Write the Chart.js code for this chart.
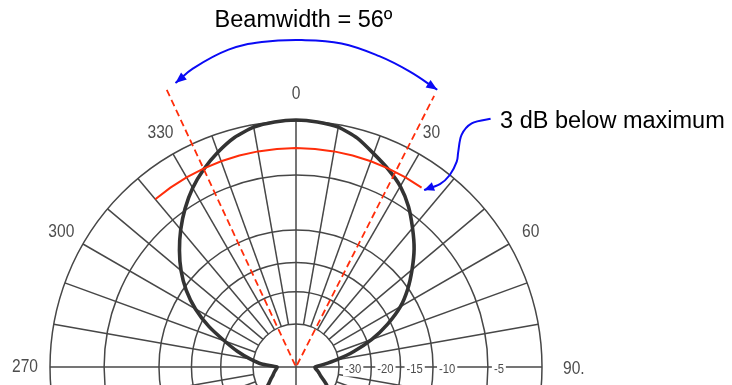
<!DOCTYPE html>
<html><head><meta charset="utf-8">
<script src="https://cdn.jsdelivr.net/npm/chart.js@4.4.1/dist/chart.umd.min.js"></script>
<style>
html,body{margin:0;padding:0;background:#fff;overflow:hidden;width:732px;height:385px;}
#wrap{position:absolute;left:0;top:0;width:732px;height:640px;}
</style></head><body>
<div id="wrap"><canvas id="c"></canvas></div>
<script>
// ---------------- data ----------------
const startDeg = 180; // category index 0 sits at the bottom of the polar plot
const angleLabels = Array.from({length: 360}, (_, i) => String((startDeg + i) % 360));

// rings of the polar paper (fraction of outer radius) and their dB labels
const ringValues = [0.175, 0.306, 0.425, 0.557, 0.780, 1.0];
const ringTickLabels = ['-30', '-20', '-15', '-10', '-5'];

// azimuth labels printed round the paper
const azimuthTickAngles = [0, 30, 60, 90, 270, 300, 330];
const azimuthTickLabels = ['0', '30', '60', '90.', '270', '300', '330'];

// measured radiation pattern, every 5 degrees (relative radius)
const patternAngles = [0,5,10,15,20,25,30,35,40,45,50,55,60,65,70,75,80,85,90,95,100,105,110,115,120,125,130,135,140,145,150,155,160,165,170,175,180,185,190,195,200,205,210,215,220,225,230,235,240,245,250,255,260,265,270,275,280,285,290,295,300,305,310,315,320,325,330,335,340,345,350,355];
const patternValues = [1.004,1.0,0.99,0.963,0.923,0.887,0.848,0.797,0.737,0.679,0.616,0.555,0.490,0.410,0.328,0.243,0.167,0.110,0.077,0.080,0.089,0.097,0.107,0.123,0.143,0.160,0.175,0.188,0.200,0.210,0.218,0.225,0.230,0.233,0.235,0.236,0.236,0.236,0.235,0.233,0.230,0.225,0.218,0.210,0.200,0.187,0.172,0.145,0.125,0.112,0.100,0.093,0.086,0.080,0.077,0.140,0.190,0.247,0.309,0.391,0.472,0.545,0.610,0.670,0.729,0.786,0.840,0.887,0.929,0.966,0.99,1.0];

// 3 dB (half power) arc
const halfPowerLevel = 0.89;
const halfPowerArcAngles = [320,325,330,335,340,345,350,355,0,5,10,15,20,25,30,35];

// dashed beam edges (outer end, apex at centre, outer end)
const beamEdgeAngles = [335, 336, 27];
const beamEdgeValues = [1.243, 0, 1.237];

// blue double arrow above the pattern
const beamArrowAngles = [337, 341, 348, 354, 1, 8, 15, 21, 27];
const beamArrowValues = [1.254, 1.284, 1.319, 1.328, 1.329, 1.328, 1.308, 1.287, 1.265];

// blue call-out curve from the text to the end of the 3 dB arc
const calloutAngles = [38.1, 35.8, 35.5, 37.0, 38.05, 38.7, 38.2, 35.9];
const calloutValues = [1.282, 1.221, 1.159, 1.096, 1.060, 1.000, 0.946, 0.888];

const beamTitle = 'Beamwidth = 56º';
const calloutText = '3 dB below maximum';

// ---------------- styles ----------------
const GRID = '#474747';
const PATTERN = '#333333';
const RED = '#ff2d0a';
const BLUE = '#0a0af5';
const LABEL_GRAY = '#4d4d4d';
const FONT = "'Liberation Sans', Arial, sans-serif";

// ---------------- helpers ----------------
function idxOf(a) { return ((a - startDeg) % 360 + 360) % 360; }
function toSeries(angles, values) {
  const out = new Array(angleLabels.length).fill(null);
  angles.forEach((a, k) => { out[idxOf(a)] = values[k]; });
  return out;
}
function polar(s, a, v) {
  return s.getPointPosition(idxOf(a), s.getDistanceFromCenterForValue(v));
}
function arrowHead(ctx, tip, from, len, half, color) {
  const dx = tip.x - from.x, dy = tip.y - from.y;
  const d = Math.hypot(dx, dy) || 1;
  const ux = dx / d, uy = dy / d;
  const bx = tip.x - ux * len, by = tip.y - uy * len;
  ctx.save();
  ctx.fillStyle = color;
  ctx.beginPath();
  ctx.moveTo(tip.x, tip.y);
  ctx.lineTo(bx - uy * half, by + ux * half);
  ctx.lineTo(bx + uy * half, by - ux * half);
  ctx.closePath();
  ctx.fill();
  ctx.restore();
}
function narrowText(ctx, text, x, y, align, sx) {
  ctx.save();
  ctx.translate(x, y);
  ctx.scale(sx, 1);
  ctx.textAlign = align;
  ctx.fillText(text, 0, 0);
  ctx.restore();
}

// radar controller whose line is not closed into a loop
class OpenRadarController extends Chart.RadarController {
  update(mode) {
    super.update(mode);
    const line = this._cachedMeta.dataset;
    line._loop = false;
    line._fullLoop = false;
  }
}
OpenRadarController.id = 'openRadar';
OpenRadarController.defaults = Chart.RadarController.defaults;
Chart.register(OpenRadarController);

const polarPaper = {
  id: 'polarPaper',
  beforeDatasetsDraw(chart) {
    const s = chart.scales.r, ctx = chart.ctx;
    ctx.save();
    ctx.strokeStyle = GRID;
    ctx.lineWidth = 1.5;
    for (let a = 0; a < 360; a += 10) {
      const inner = (a % 90 === 0) ? 0 : ringValues[0];
      const p0 = polar(s, a, inner), p1 = polar(s, a, 1);
      ctx.beginPath(); ctx.moveTo(p0.x, p0.y); ctx.lineTo(p1.x, p1.y); ctx.stroke();
    }
    ctx.restore();
  },
  afterDatasetsDraw(chart) {
    const s = chart.scales.r, ctx = chart.ctx;
    const R = s.drawingArea;

    // ring (dB) labels along the 90 degree axis, with white backdrop
    ctx.save();
    ctx.font = '12.5px ' + FONT;
    ctx.textBaseline = 'middle';
    ringTickLabels.forEach((t, k) => {
      const p = s.getPointPosition(idxOf(90), s.getDistanceFromCenterForValue(ringValues[k]) + 6);
      const w = ctx.measureText(t).width * 0.9;
      const y = p.y + 3;
      ctx.fillStyle = '#fff';
      ctx.fillRect(p.x - 2, y - 6.5, w + 4, 13);
      ctx.fillStyle = LABEL_GRAY;
      narrowText(ctx, t, p.x, y, 'left', 0.9);
    });
    ctx.restore();

    // azimuth labels
    ctx.save();
    ctx.font = '19px ' + FONT;
    ctx.fillStyle = LABEL_GRAY;
    ctx.textBaseline = 'middle';
    azimuthTickAngles.forEach((a, k) => {
      if (a === 90) {
        const p = s.getPointPosition(idxOf(a), R + 21);
        narrowText(ctx, azimuthTickLabels[k], p.x, p.y + 2, 'left', 0.82);
      } else {
        const p = s.getPointPosition(idxOf(a), R + (a === 0 ? 27 : 25));
        narrowText(ctx, azimuthTickLabels[k], p.x, p.y, 'center', 0.82);
      }
    });
    ctx.restore();

    // arrow heads on the beamwidth arc
    const pts = chart.getDatasetMeta(3).data.filter(p => !p.skip);
    if (pts.length > 1) {
      arrowHead(ctx, pts[0], pts[1], 11, 4.5, BLUE);
      arrowHead(ctx, pts[pts.length - 1], pts[pts.length - 2], 11, 4.5, BLUE);
    }

    // call-out curve
    const cp = calloutAngles.map((a, k) => polar(s, a, calloutValues[k]));
    ctx.save();
    ctx.strokeStyle = BLUE;
    ctx.lineWidth = 2;
    ctx.beginPath();
    ctx.moveTo(cp[0].x, cp[0].y);
    for (let i = 0; i < cp.length - 1; i++) {
      const p0 = cp[i - 1] || cp[i], p1 = cp[i], p2 = cp[i + 1], p3 = cp[i + 2] || cp[i + 1];
      ctx.bezierCurveTo(p1.x + (p2.x - p0.x) / 6, p1.y + (p2.y - p0.y) / 6,
                        p2.x - (p3.x - p1.x) / 6, p2.y - (p3.y - p1.y) / 6, p2.x, p2.y);
    }
    ctx.stroke();
    ctx.restore();
    arrowHead(ctx, cp[cp.length - 1], cp[cp.length - 2], 10, 4.5, BLUE);

    // annotation texts
    ctx.save();
    ctx.fillStyle = '#000';
    ctx.font = '23.5px ' + FONT;
    ctx.textBaseline = 'alphabetic';
    ctx.textAlign = 'center';
    ctx.fillText(beamTitle, s.xCenter + 7.5, s.yCenter - R * 1.383);
    ctx.textAlign = 'left';
    ctx.fillText(calloutText, cp[0].x + 9.5, cp[0].y + 9.5);
    ctx.restore();
  }
};

new Chart(document.getElementById('c'), {
  type: 'radar',
  data: {
    labels: angleLabels,
    datasets: [
      { label: 'Radiation pattern', data: toSeries(patternAngles, patternValues),
        borderColor: PATTERN, borderWidth: 3.6, fill: false, spanGaps: true, tension: 0.2,
        pointRadius: 0, order: 4, clip: false },
      { type: 'openRadar', label: '3 dB below maximum',
        data: toSeries(halfPowerArcAngles, halfPowerArcAngles.map(() => halfPowerLevel)),
        borderColor: RED, borderWidth: 2, fill: false, spanGaps: true, tension: 0,
        pointRadius: 0, order: 3, clip: false },
      { type: 'openRadar', label: 'Beam edges', data: toSeries(beamEdgeAngles, beamEdgeValues),
        borderColor: RED, borderWidth: 1.8, borderDash: [7, 4], fill: false, spanGaps: true, tension: 0,
        pointRadius: 0, order: 2, clip: false },
      { type: 'openRadar', label: 'Beamwidth', data: toSeries(beamArrowAngles, beamArrowValues),
        borderColor: BLUE, borderWidth: 2, fill: false, spanGaps: true, tension: 0.4,
        pointRadius: 0, order: 1, clip: false }
    ]
  },
  options: {
    responsive: true,
    maintainAspectRatio: false,
    animation: false,
    events: [],
    layout: { padding: { left: 50, right: 190, top: 121, bottom: 27 } },
    plugins: { legend: { display: false }, tooltip: { enabled: false }, title: { display: false } },
    elements: { point: { radius: 0, hoverRadius: 0 }, line: { capBezierPoints: false } },
    scales: {
      r: {
        min: 0, max: 1,
        startAngle: startDeg,
        afterBuildTicks: (scale) => { scale.ticks = [0].concat(ringValues).map(v => ({ value: v })); },
        ticks: { display: false },
        pointLabels: { display: false },
        angleLines: { display: false },
        grid: { circular: true, color: GRID, lineWidth: 1.5 }
      }
    }
  },
  plugins: [polarPaper]
});
</script>
</body></html>
